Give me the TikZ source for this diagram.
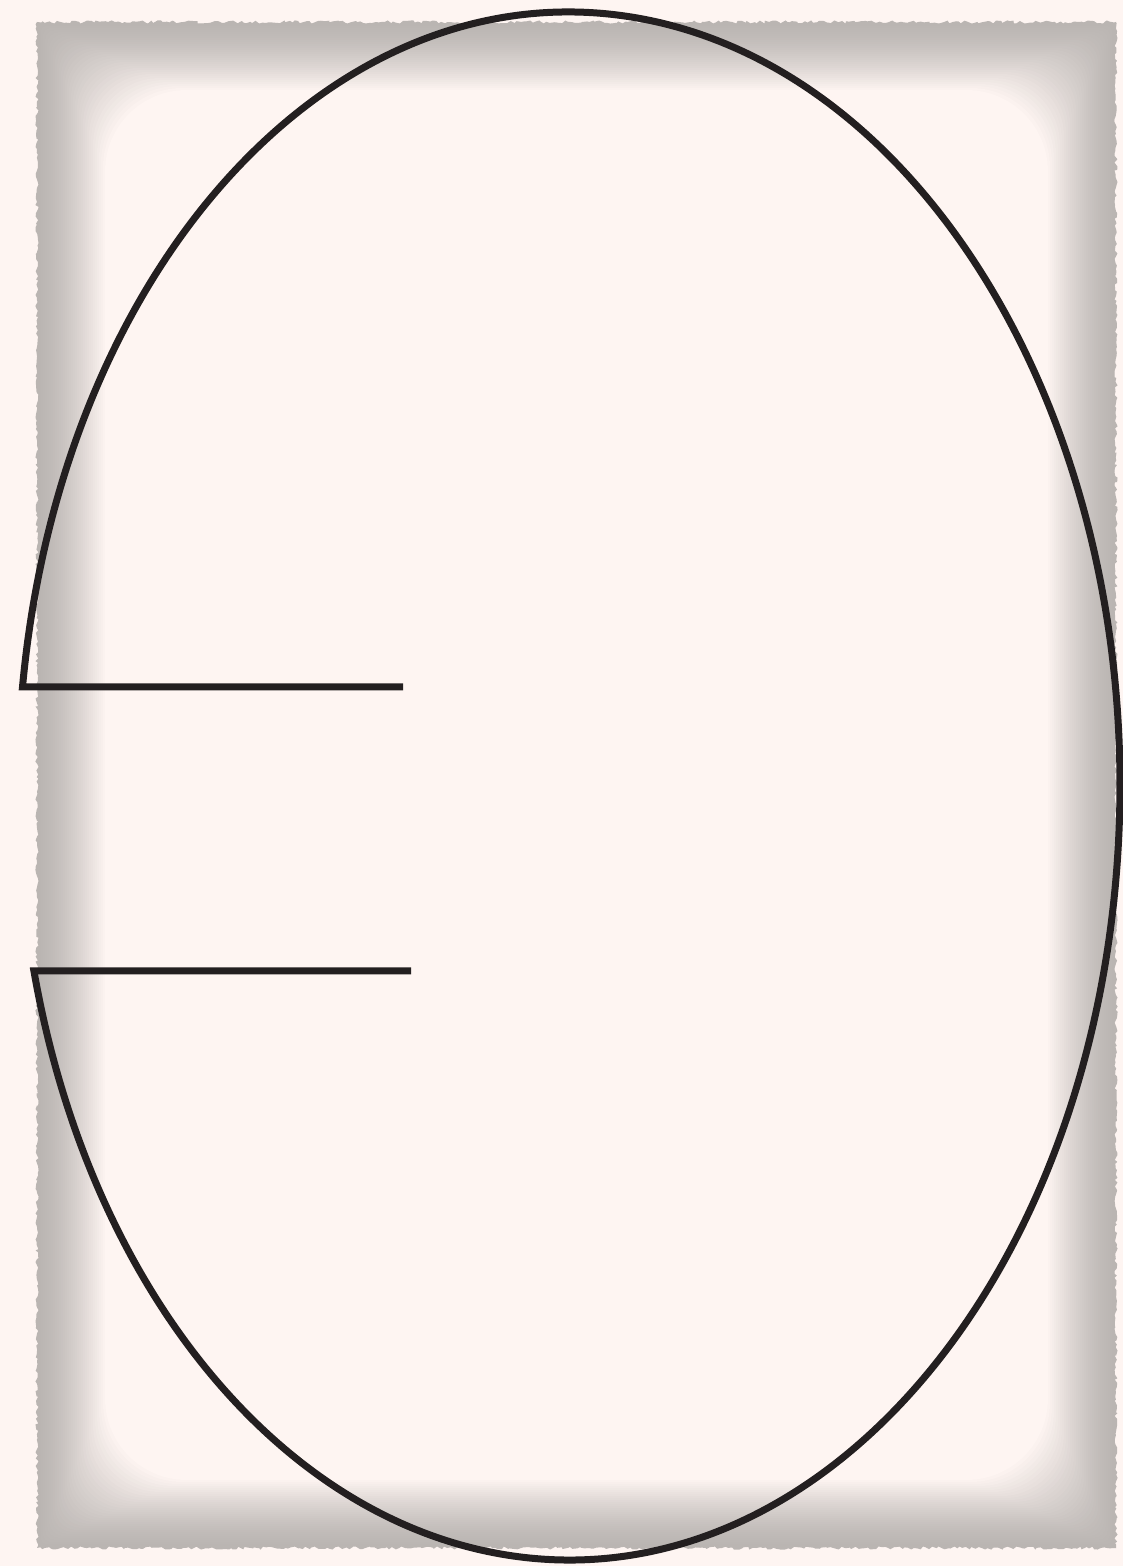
\documentclass[tikz,border=0pt]{standalone}
\usetikzlibrary{decorations.pathmorphing}
\definecolor{bg}{HTML}{FEF5F2}
\definecolor{edgegray}{HTML}{BAB5B2}
\definecolor{ink}{HTML}{231F20}
\tikzset{
  inkline/.style={draw=ink, line width=7pt, line join=miter, line cap=butt},
}
\begin{document}
\begin{tikzpicture}[x=1pt,y=1pt]
\useasboundingbox (0,0) rectangle (1123,1566);
\fill[bg] (0,0) rectangle (1123,1566);
% torn paper edge
\fill[edgegray, decorate, decoration={random steps, segment length=3pt, amplitude=1.6pt}]
  (37,18) rectangle (1116,1544);
% soft inner shadow
\foreach \i in {1,...,34} {
  \pgfmathsetmacro\p{100*(\i/34)^1.5}
  \pgfmathsetmacro\d{2*\i}
  \fill[bg!\p!edgegray, rounded corners=\d*1.2]
    (37+\d,18+\d) rectangle (1116-\d,1544-\d);
}
% open ellipse with two horizontal strokes
\draw[inkline] (403,879) -- (22.5,879)
  arc[start angle=172.65, end angle=-166.17, x radius=551, y radius=774]
  -- (411,595);
\end{tikzpicture}
\end{document}
